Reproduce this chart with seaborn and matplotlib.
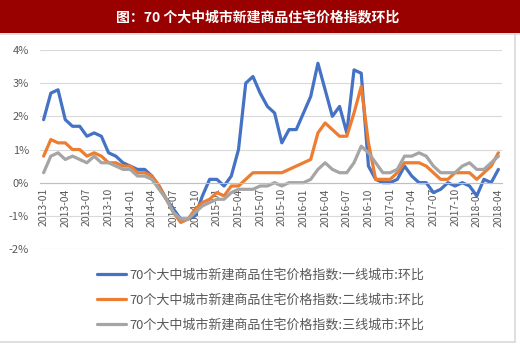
import numpy as np
import pandas as pd
import matplotlib
matplotlib.use("Agg")
import matplotlib.pyplot as plt
import seaborn as sns
from matplotlib.lines import Line2D
from matplotlib.patches import Rectangle

# Monthly MoM change (%) of new residential prices, Jan 2013 - Apr 2018
months = pd.date_range("2013-01-01", periods=64, freq="MS").strftime("%Y-%m").tolist()

tier1 = [1.9, 2.7, 2.8, 1.9, 1.7, 1.7, 1.4, 1.5, 1.4, 0.9,
         0.8, 0.6, 0.5, 0.4, 0.4, 0.2, -0.1, -0.5, -0.8, -1.1,
         -1.1, -1.0, -0.4, 0.1, 0.1, -0.1, 0.2, 1.0, 3.0, 3.2,
         2.7, 2.3, 2.1, 1.2, 1.6, 1.6, 2.1, 2.6, 3.6, 2.8,
         2.0, 2.3, 1.5, 3.4, 3.3, 0.5, 0.1, 0.0, 0.0, 0.1,
         0.5, 0.2, 0.0, 0.0, -0.3, -0.2, 0.0, -0.1, 0.0, -0.1,
         -0.4, 0.1, 0.0, 0.4]

tier2 = [0.8, 1.3, 1.2, 1.2, 1.0, 1.0, 0.8, 0.9, 0.8, 0.6,
         0.6, 0.5, 0.5, 0.3, 0.3, 0.2, -0.1, -0.5, -0.9, -1.2,
         -1.1, -0.8, -0.6, -0.5, -0.3, -0.4, -0.1, -0.1, 0.1, 0.3,
         0.3, 0.3, 0.3, 0.3, 0.4, 0.5, 0.6, 0.7, 1.5, 1.8,
         1.6, 1.4, 1.4, 2.1, 2.9, 1.2, 0.1, 0.1, 0.1, 0.3,
         0.6, 0.6, 0.6, 0.5, 0.3, 0.1, 0.1, 0.3, 0.3, 0.3,
         0.1, 0.3, 0.5, 0.9]

tier3 = [0.3, 0.8, 0.9, 0.7, 0.8, 0.7, 0.6, 0.8, 0.6, 0.6,
         0.5, 0.4, 0.4, 0.2, 0.2, 0.1, -0.2, -0.5, -0.9, -1.1,
         -1.1, -0.9, -0.7, -0.6, -0.5, -0.5, -0.3, -0.2, -0.2, -0.2,
         -0.1, -0.1, 0.0, -0.1, 0.0, 0.0, 0.0, 0.1, 0.4, 0.6,
         0.4, 0.3, 0.3, 0.6, 1.1, 0.9, 0.6, 0.3, 0.3, 0.4,
         0.8, 0.8, 0.9, 0.8, 0.5, 0.3, 0.3, 0.3, 0.5, 0.6,
         0.4, 0.4, 0.6, 0.8]

series_names = [
    "70个大中城市新建商品住宅价格指数:一线城市:环比",
    "70个大中城市新建商品住宅价格指数:二线城市:环比",
    "70个大中城市新建商品住宅价格指数:三线城市:环比",
]
colors = ["#4472C4", "#ED7D31", "#A5A5A5"]
title = "图：70 个大中城市新建商品住宅价格指数环比"
y_ticks = [-2, -1, 0, 1, 2, 3, 4]

df = pd.DataFrame({
    "pos": list(range(len(months))) * 3,
    "value": tier1 + tier2 + tier3,
    "series": [n for n in series_names for _ in months],
})

sns.set_style("white")
plt.rcParams["font.family"] = ["Noto Sans CJK SC", "DejaVu Sans"]

W, H = 520, 348
fig = plt.figure(figsize=(W / 100, H / 100), dpi=100)

# header band
fig.add_artist(Rectangle((0, 1 - 33 / H), 1, 33 / H, transform=fig.transFigure,
                         facecolor="#990000", edgecolor="none", zorder=0))
fig.text(0.496, 1 - 17 / H, title, color="white", fontsize=10, fontweight="bold",
         ha="center", va="center")
fig.add_artist(Line2D([0, 1], [1 - 34 / H] * 2, transform=fig.transFigure,
                      color="#D9D9D9", lw=1.2))
fig.add_artist(Line2D([515 / W] * 2, [1 - 342 / H, 1 - 34 / H], transform=fig.transFigure,
                      color="#D9D9D9", lw=1.2))
fig.add_artist(Line2D([0, 515 / W], [1 - 342 / H] * 2, transform=fig.transFigure,
                      color="#D9D9D9", lw=1.2))

ax = fig.add_axes([40 / W, 1 - 249 / H, 462 / W, 199 / H])
sns.lineplot(data=df, x="pos", y="value", hue="series", hue_order=series_names,
             palette=dict(zip(series_names, colors)), linewidth=2.3,
             legend=False, ax=ax)
for ln in ax.lines:
    ln.set_solid_joinstyle("round")
    ln.set_solid_capstyle("round")

ax.set_xlim(-0.5, len(months) - 0.5)
ax.set_ylim(-2, 4)
ax.set_yticks(y_ticks)
ax.set_yticklabels([f"{v}%" for v in y_ticks])
ax.yaxis.grid(True, color="#D9D9D9", lw=0.8)
ax.set_axisbelow(True)
for s in ["left", "right", "top"]:
    ax.spines[s].set_visible(False)
ax.spines["bottom"].set_position(("data", 0))
ax.spines["bottom"].set_color("#BFBFBF")
ax.spines["bottom"].set_linewidth(0.8)

ax.set_xticks(range(0, len(months), 3))
ax.set_xticklabels(months[::3], rotation=90)
ax.set_xticks(np.arange(-0.5, len(months), 3), minor=True)
ax.tick_params(axis="x", which="major", length=0, pad=4, labelsize=7.5, labelcolor="#595959")
ax.tick_params(axis="x", which="minor", length=4, width=0.8, color="#BFBFBF")
ax.tick_params(axis="y", length=0, pad=8, labelsize=8, labelcolor="#595959")
ax.set_xlabel("")
ax.set_ylabel("")

handles = [Line2D([], [], color=c, lw=2.3) for c in colors]
fig.legend(handles, series_names, loc="upper left", bbox_to_anchor=(97 / W, 1 - 269 / H),
           frameon=False, fontsize=9.4, labelcolor="#595959", handlelength=2.2,
           handletextpad=0.25, labelspacing=0.92, borderaxespad=0, borderpad=0)

fig.savefig("out.png", dpi=100)
